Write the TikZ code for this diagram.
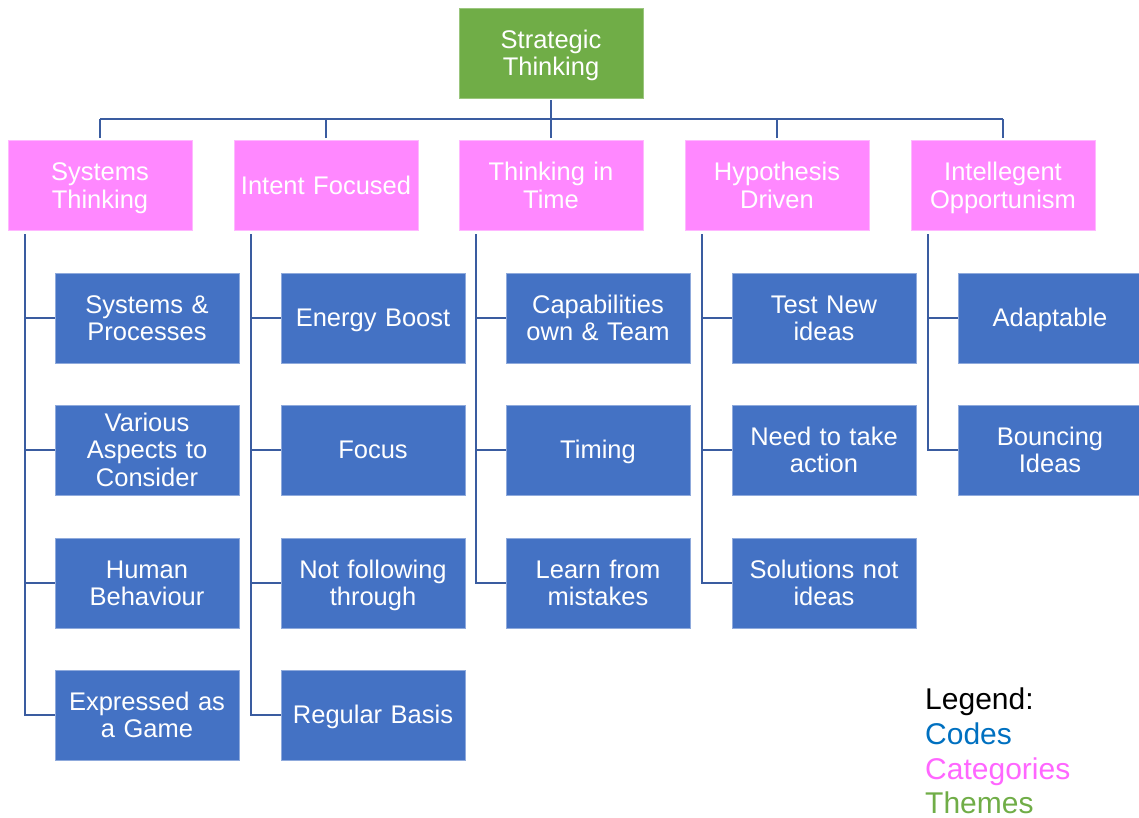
\documentclass[tikz,border=0pt]{standalone}
\usepackage{fontspec}
\setmainfont{Liberation Sans}
\definecolor{themegreen}{HTML}{70AD47}
\definecolor{catpink}{HTML}{FF88FF}
\definecolor{codeblue}{HTML}{4472C4}
\definecolor{linkblue}{HTML}{3A5CA0}
\definecolor{legcode}{HTML}{0070C0}
\definecolor{legcat}{HTML}{FF66FF}
\begin{document}
\begin{tikzpicture}[x=1pt,y=-1pt,
  boxbase/.style={rectangle,minimum width=184pt,minimum height=90pt,inner sep=0pt},
  boxtext/.style={text=white,align=center,text width=182pt,inner sep=0pt,
    yshift=-3.4pt,font=\fontsize{25.5pt}{27.5pt}\selectfont,
    execute at begin node=\strut, execute at end node=\strut},
  theme/.style={boxbase,fill=themegreen,draw=themegreen!70!white,line width=0.8pt,label={[boxtext]center:#1}},
  cat/.style={boxbase,fill=catpink,draw=catpink!60!white,line width=0.8pt,label={[boxtext]center:#1}},
  code/.style={boxbase,fill=codeblue,draw=codeblue!60!white,line width=0.8pt,label={[boxtext]center:#1}},
  link/.style={draw=linkblue,line width=2.8pt},
  legend/.style={anchor=base west,inner sep=0pt,font=\fontsize{30pt}{35pt}\selectfont}]
\useasboundingbox (0,0) rectangle (1139,817);

% theme
\node[theme={Strategic\\Thinking}] (top) at (551,53) {};

% categories
\node[cat={Systems\\Thinking}] (c1) at (100,185.5) {};
\node[cat={Intent Focused}] (c2) at (326,185.5) {};
\node[cat={Thinking in\\Time}] (c3) at (551,185.5) {};
\node[cat={Hypothesis\\Driven}] (c4) at (777,185.5) {};
\node[cat={Intellegent\\Opportunism}] (c5) at (1003,185.5) {};

% codes column 1
\node[code={Systems \&\\Processes}] (a1) at (147,318) {};
\node[code={Various\\Aspects to\\Consider}] (a2) at (147,450) {};
\node[code={Human\\Behaviour}] (a3) at (147,583) {};
\node[code={Expressed as\\a Game}] (a4) at (147,715) {};
% column 2
\node[code={Energy Boost}] (b1) at (373,318) {};
\node[code={Focus}] (b2) at (373,450) {};
\node[code={Not following\\through}] (b3) at (373,583) {};
\node[code={Regular Basis}] (b4) at (373,715) {};
% column 3
\node[code={Capabilities\\own \& Team}] (d1) at (598,318) {};
\node[code={Timing}] (d2) at (598,450) {};
\node[code={Learn from\\mistakes}] (d3) at (598,583) {};
% column 4
\node[code={Test New\\ideas}] (e1) at (824,318) {};
\node[code={Need to take\\action}] (e2) at (824,450) {};
\node[code={Solutions not\\ideas}] (e3) at (824,583) {};
% column 5
\node[code={Adaptable}] (f1) at (1050,318) {};
\node[code={Bouncing\\Ideas}] (f2) at (1050,450) {};

% top connectors
\coordinate (bar) at (551,119);
\draw[link] ([yshift=-2pt]top.south) -- (top.south |- bar);
\draw[link] (c1.north |- bar) -- (c5.north |- bar);
\foreach \c in {c1,c2,c3,c4,c5}
  \draw[link] ([yshift=2pt]\c.north) -- (\c.north |- bar);

% trunks
\coordinate (t1) at (25,234);
\coordinate (t2) at (251,234);
\coordinate (t3) at (476,234);
\coordinate (t4) at (702,234);
\coordinate (t5) at (928,234);
\draw[link] (t1) -- (t1 |- a4.west) -- (a4.west);
\draw[link] (t1 |- a1.west) -- (a1.west);
\draw[link] (t1 |- a2.west) -- (a2.west);
\draw[link] (t1 |- a3.west) -- (a3.west);
\draw[link] (t2) -- (t2 |- b4.west) -- (b4.west);
\draw[link] (t2 |- b1.west) -- (b1.west);
\draw[link] (t2 |- b2.west) -- (b2.west);
\draw[link] (t2 |- b3.west) -- (b3.west);
\draw[link] (t3) -- (t3 |- d3.west) -- (d3.west);
\draw[link] (t3 |- d1.west) -- (d1.west);
\draw[link] (t3 |- d2.west) -- (d2.west);
\draw[link] (t4) -- (t4 |- e3.west) -- (e3.west);
\draw[link] (t4 |- e1.west) -- (e1.west);
\draw[link] (t4 |- e2.west) -- (e2.west);
\draw[link] (t5) -- (t5 |- f2.west) -- (f2.west);
\draw[link] (t5 |- f1.west) -- (f1.west);

% legend
\node[legend,text=black] (l1) at (925,709) {Legend:};
\node[legend,text=legcode] (l2) at (925,744) {Codes};
\node[legend,text=legcat] (l3) at (925,779) {Categories};
\node[legend,text=themegreen] (l4) at (925,813) {Themes};
\end{tikzpicture}
\end{document}
